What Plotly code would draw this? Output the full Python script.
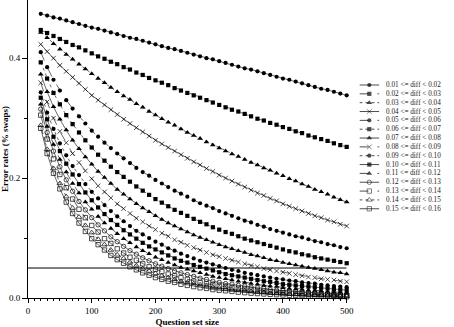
import plotly.graph_objects as go

question_set_size = [20, 30, 40, 50, 60, 70, 80, 90, 100, 110, 120, 130, 140, 150, 160, 170, 180,
                     190, 200, 210, 220, 230, 240, 250, 260, 270, 280, 290, 300, 310, 320, 330, 340,
                     350, 360, 370, 380, 390, 400, 410, 420, 430, 440, 450, 460, 470, 480, 490, 500]

series_labels = ["0.01 &lt;= diff &lt; 0.02", "0.02 &lt;= diff &lt; 0.03", "0.03 &lt;= diff &lt; 0.04",
                 "0.04 &lt;= diff &lt; 0.05", "0.05 &lt;= diff &lt; 0.06", "0.06 &lt;= diff &lt; 0.07",
                 "0.07 &lt;= diff &lt; 0.08", "0.08 &lt;= diff &lt; 0.09", "0.09 &lt;= diff &lt; 0.10",
                 "0.10 &lt;= diff &lt; 0.11", "0.11 &lt;= diff &lt; 0.12", "0.12 &lt;= diff &lt; 0.13",
                 "0.13 &lt;= diff &lt; 0.14", "0.14 &lt;= diff &lt; 0.15", "0.15 &lt;= diff &lt; 0.16"]

err_01 = [.474, .471, .468, .466, .463, .460, .457, .454, .451, .449, .446, .443, .440, .437, .434, .432, .429,
          .426, .423, .420, .417, .415, .412, .409, .406, .403, .400, .398, .395, .392, .389, .386, .383,
          .381, .378, .375, .372, .369, .366, .364, .361, .358, .355, .352, .349, .347, .344, .341, .338]
err_02 = [.447, .442, .437, .432, .427, .422, .418, .413, .408, .403, .399, .394, .390, .385, .381, .376, .372,
          .367, .363, .359, .355, .350, .346, .342, .338, .334, .330, .326, .322, .318, .314, .311, .307,
          .303, .299, .296, .292, .289, .285, .282, .278, .275, .271, .268, .265, .262, .258, .255, .252]
err_03 = [.443, .434, .424, .415, .406, .398, .390, .382, .374, .366, .359, .351, .344, .337, .331, .324, .318,
          .311, .305, .299, .293, .288, .282, .276, .271, .266, .260, .255, .250, .245, .240, .236, .231,
          .226, .222, .217, .213, .208, .204, .199, .195, .190, .186, .181, .177, .173, .168, .164, .160]
err_04 = [.423, .411, .400, .388, .378, .368, .358, .348, .338, .330, .322, .314, .306, .298, .291, .284, .277,
          .270, .263, .257, .251, .245, .239, .233, .227, .222, .216, .211, .205, .200, .195, .190, .185,
          .180, .175, .171, .166, .162, .157, .153, .149, .145, .141, .137, .134, .130, .127, .123, .120]
err_05 = [.410, .385, .364, .346, .330, .316, .303, .291, .279, .269, .259, .250, .241, .233, .225, .217, .210,
          .204, .197, .191, .185, .179, .174, .169, .163, .158, .154, .150, .145, .141, .137, .133, .129,
          .126, .122, .119, .115, .112, .109, .106, .103, .101, .098, .095, .093, .090, .088, .085, .083]
err_06 = [.393, .366, .342, .323, .305, .290, .276, .263, .251, .239, .229, .219, .210, .202, .194, .186, .179,
          .172, .165, .159, .153, .147, .142, .137, .132, .127, .123, .118, .114, .110, .107, .103, .099,
          .096, .093, .090, .087, .084, .081, .078, .076, .073, .071, .068, .066, .064, .062, .060, .058]
err_07 = [.373, .344, .319, .298, .280, .263, .249, .235, .223, .211, .201, .191, .181, .173, .165, .157, .150,
          .144, .137, .131, .125, .120, .115, .110, .105, .101, .097, .093, .089, .085, .082, .079, .076,
          .072, .070, .067, .064, .062, .059, .057, .055, .053, .051, .049, .047, .045, .043, .042, .040]
err_08 = [.359, .327, .300, .278, .259, .241, .226, .212, .199, .187, .177, .167, .157, .149, .141, .133, .127,
          .120, .114, .108, .103, .097, .093, .088, .084, .080, .076, .072, .069, .066, .063, .060, .057,
          .054, .052, .049, .047, .045, .043, .041, .039, .037, .035, .034, .032, .031, .030, .028, .027]
err_09 = [.343, .309, .282, .258, .238, .220, .205, .190, .177, .166, .155, .145, .136, .128, .120, .112, .106,
          .100, .094, .089, .083, .079, .074, .070, .066, .062, .059, .056, .053, .050, .047, .045, .042,
          .040, .038, .036, .034, .032, .031, .029, .028, .026, .025, .024, .022, .021, .020, .019, .018]
err_10 = [.334, .298, .269, .245, .224, .206, .190, .176, .163, .151, .140, .130, .122, .113, .106, .099, .092,
          .086, .081, .076, .071, .066, .062, .059, .055, .052, .049, .046, .043, .040, .038, .036, .034,
          .032, .030, .028, .027, .025, .023, .022, .021, .020, .019, .018, .017, .016, .015, .014, .013]
err_11 = [.323, .286, .256, .231, .210, .191, .175, .160, .148, .136, .125, .116, .107, .099, .092, .085, .079,
          .074, .068, .064, .059, .055, .051, .048, .045, .042, .039, .036, .034, .032, .030, .028, .026,
          .024, .023, .021, .020, .019, .017, .016, .015, .014, .013, .0125, .012, .011, .010, .0097, .009]
err_12 = [.315, .276, .245, .219, .197, .178, .161, .147, .134, .122, .112, .102, .094, .086, .079, .073, .067,
          .062, .057, .053, .049, .045, .042, .039, .036, .033, .031, .028, .026, .024, .023, .021, .020,
          .018, .017, .016, .014, .013, .0125, .012, .011, .010, .0093, .0087, .008, .0075, .007, .0065, .006]
err_13 = [.305, .265, .232, .206, .184, .165, .148, .134, .121, .110, .099, .091, .082, .075, .068, .063, .057,
          .052, .048, .044, .040, .037, .034, .031, .028, .026, .024, .022, .020, .019, .017, .016, .015,
          .0135, .0124, .0114, .0105, .0098, .009, .0083, .0076, .0071, .0065, .006, .0056, .0052, .0047, .0044, .0041]
err_14 = [.288, .248, .216, .191, .169, .150, .135, .121, .109, .098, .089, .080, .072, .066, .060, .054, .049,
          .045, .041, .037, .034, .031, .028, .026, .024, .022, .020, .018, .017, .015, .014, .013, .012,
          .011, .0099, .0091, .0083, .0076, .007, .0064, .0059, .0055, .005, .0046, .0043, .0039, .0036, .0033, .0031]
err_15 = [.283, .241, .208, .182, .160, .141, .125, .111, .099, .089, .080, .071, .064, .058, .052, .047, .042,
          .038, .034, .031, .028, .026, .023, .021, .019, .017, .016, .014, .013, .012, .011, .0098, .0089,
          .008, .0074, .0067, .0061, .0056, .0051, .0046, .0042, .0039, .0035, .0032, .003, .0027, .0025, .0023, .0021]

series_values = [err_01, err_02, err_03, err_04, err_05, err_06, err_07, err_08,
                 err_09, err_10, err_11, err_12, err_13, err_14, err_15]

line_dashes = ["solid", "dash", "dot", "solid", "dash", "dot", "solid", "dash", "dot",
               "solid", "dash", "solid", "dash", "dot", "solid"]
marker_symbols = ["circle", "square", "triangle-up", "x-thin",
                  "circle", "square", "triangle-up", "x-thin",
                  "circle", "square", "triangle-up",
                  "circle-open", "square-open", "triangle-up-open", "square-open"]
threshold = 0.05

FONT = "Liberation Serif"


def marker_style(sym, sizes):
    size_map = {"circle": 4.2, "square": 4.2, "triangle-up": 5, "x-thin": 4.6,
                "circle-open": 4.4, "square-open": 4.4, "triangle-up-open": 5.0}
    base = size_map[sym]
    if isinstance(sizes, list):
        s = [base * v for v in sizes]
    else:
        s = base
    return dict(symbol=sym, size=s, color="black",
                line=dict(color="black", width=0.7 if ("open" in sym or "x" in sym) else 0))


fig = go.Figure()

for lab, vals, dash, sym in zip(series_labels, series_values, line_dashes, marker_symbols):
    fig.add_trace(go.Scatter(
        x=question_set_size, y=vals, mode="lines+markers", name=lab,
        line=dict(color="black", width=0.6, dash=dash),
        marker=marker_style(sym, None), cliponaxis=False, showlegend=False,
        xaxis="x", yaxis="y"))

# compact legend drawn in a hidden helper axis pair
row0, row_step = 85, 8.84
for i, (lab, dash, sym) in enumerate(zip(series_labels, line_dashes, marker_symbols)):
    ry = row0 + row_step * i
    fig.add_trace(go.Scatter(
        x=[0, 10, 20], y=[ry, ry, ry], mode="lines+markers",
        line=dict(color="black", width=0.7, dash=dash),
        marker=marker_style(sym, [0, 1, 0]), showlegend=False, hoverinfo="skip",
        xaxis="x2", yaxis="y2", cliponaxis=False))
    fig.add_annotation(x=25, y=ry, xref="x2", yref="y2", text=lab, showarrow=False,
                       xanchor="left", yanchor="middle",
                       font=dict(family=FONT, size=7.2, color="#222222"))

fig.add_shape(type="line", x0=0, x1=500, y0=threshold, y1=threshold, xref="x", yref="y",
              line=dict(color="black", width=1))

plot_w = 454 - 28
fig.update_layout(
    width=454, height=327,
    margin=dict(l=28, r=0, t=0, b=29),
    paper_bgcolor="white", plot_bgcolor="white",
    font=dict(family=FONT, color="black"),
    xaxis=dict(domain=[0, 324 / plot_w], range=[0, 500], showgrid=False, zeroline=False,
               showline=True, linecolor="black", linewidth=1,
               ticks="outside", tick0=0, dtick=100, ticklen=4, tickwidth=1, tickcolor="black",
               minor=dict(dtick=10, tick0=0, ticks="outside", ticklen=2, tickcolor="black", tickwidth=1),
               tickfont=dict(family=FONT, size=9),
               title=dict(text="<b>Question set size</b>", font=dict(family=FONT, size=9), standoff=3)),
    yaxis=dict(domain=[0, 1], range=[0, 0.497], showgrid=False, zeroline=False,
               showline=True, linecolor="black", linewidth=1,
               ticks="outside", tick0=0, dtick=0.2, ticklen=5, tickwidth=1, tickcolor="black",
               tickformat=".1f",
               minor=dict(dtick=0.1, tick0=0, ticks="outside", ticklen=3, tickcolor="black", tickwidth=1),
               tickfont=dict(family=FONT, size=9),
               title=dict(text="<b>Error rates (% swaps)</b>", font=dict(family=FONT, size=9), standoff=2)),
    xaxis2=dict(domain=[(365 - 28) / plot_w, 1], range=[0, 89], visible=False, anchor="y2", fixedrange=True),
    yaxis2=dict(domain=[0, 1], range=[298, 0], visible=False, anchor="x2", fixedrange=True),
)

fig.write_html("out.html")
